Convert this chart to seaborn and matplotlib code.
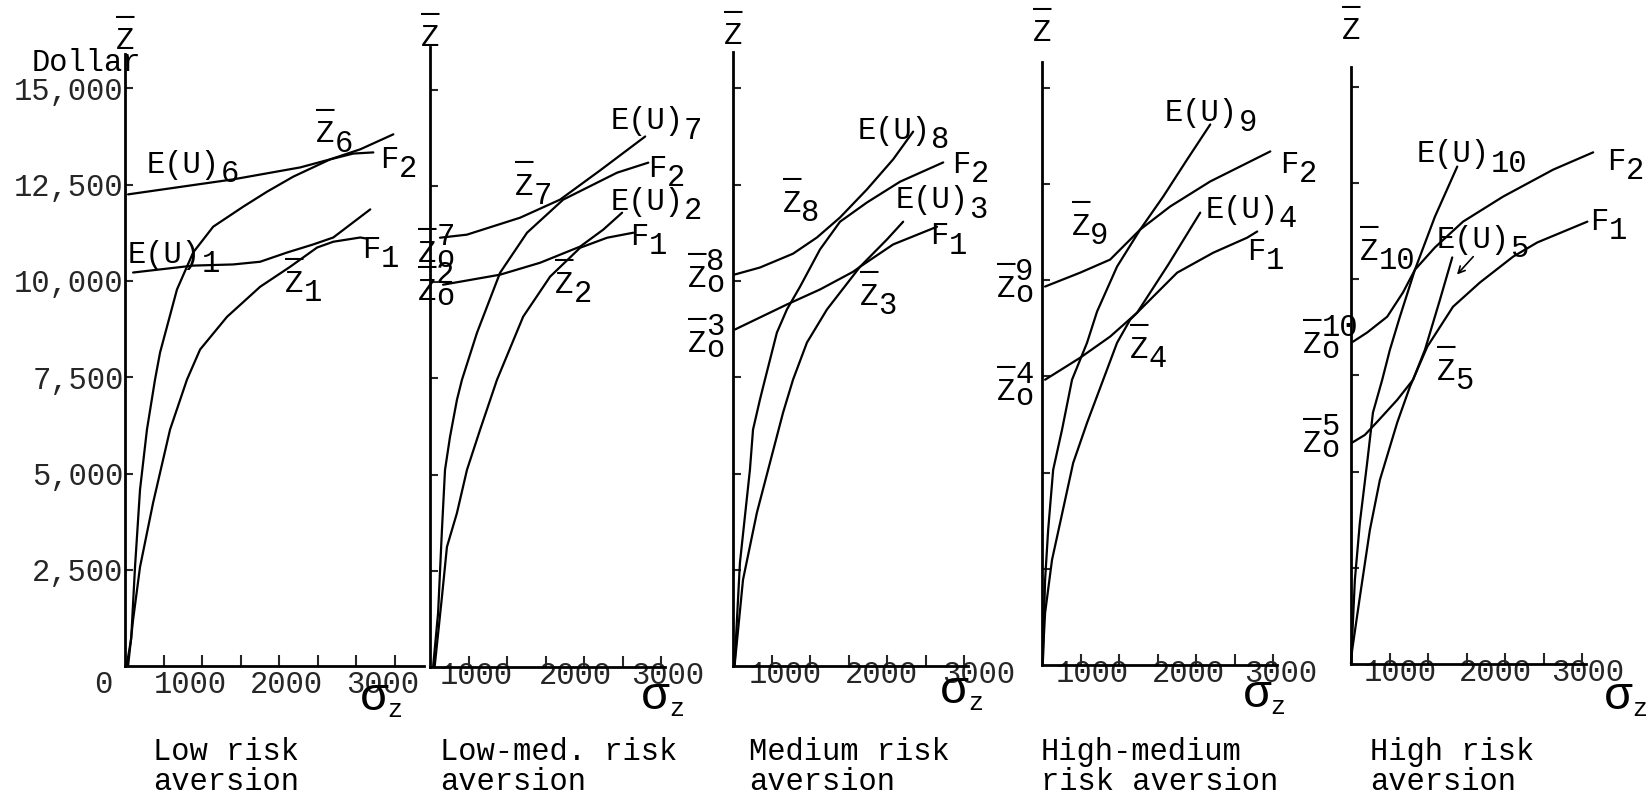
import matplotlib
matplotlib.use('Agg')
import matplotlib.pyplot as plt
import seaborn as sns

# values: (sigma_z, Z-bar), both in dollars
# low risk aversion
low_F2 = [(20, 0), (80, 700), (130, 2570), (195, 4580), (285, 6140), (390, 7440), (455, 8140), (675, 9780),
          (885, 10740), (1145, 11410), (1535, 11930), (1845, 12320), (2185, 12710), (2665, 13160),
          (2965, 13310), (3225, 13340)]
low_EU6 = [(40, 12250), (1405, 12640), (2275, 12950), (2665, 13160), (3055, 13420), (3485, 13810)]
low_EU1 = [(105, 10220), (885, 10400), (1405, 10430), (1755, 10500), (2105, 10740), (2445, 10950),
           (2705, 11130), (3185, 11860)]
low_F1 = [(40, 0), (105, 1200), (195, 2570), (365, 4240), (585, 6140), (805, 7440), (975, 8220),
          (1325, 9070), (1755, 9850), (2145, 10370), (2495, 10870), (2705, 11020), (3055, 11130), (3145, 11100)]

# low-medium risk aversion
lowmed_EU7 = [(130, 11150), (480, 11230), (1170, 11670), (1690, 12140), (2210, 12900), (2795, 13780)]
lowmed_F2 = [(40, 0), (105, 1400), (155, 3560), (195, 5120), (260, 5980), (350, 6940), (415, 7460), (610, 8680),
             (910, 10240), (1260, 11280), (1730, 12140), (2040, 12450), (2430, 12840), (2835, 13100)]
lowmed_EU2 = [(170, 9930), (910, 10190), (1430, 10500), (1950, 10920), (2250, 11360), (2495, 11800)]
lowmed_F1 = [(60, 0), (155, 1820), (220, 3120), (350, 4000), (480, 5120), (650, 6160), (870, 7460), (1210, 9100),
             (1560, 10140), (1950, 10890), (2300, 11150), (2640, 11280)]

# medium risk aversion
med_EU8 = [(25, 10170), (350, 10350), (780, 10710), (1090, 11130), (1390, 11650), (1740, 12380), (2080, 13160),
           (2340, 13880)]
med_F2 = [(20, 0), (90, 2680), (220, 5100), (260, 6140), (350, 6920), (415, 7440), (570, 8660), (700, 9260),
          (870, 9850), (1130, 10820), (1390, 11540), (1740, 12040), (2170, 12580), (2730, 13080)]
med_EU3 = [(25, 8740), (700, 9390), (1130, 9780), (1560, 10240), (1650, 10370), (2000, 11080), (2210, 11540)]
med_F1 = [(20, 0), (130, 2240), (310, 3980), (480, 5280), (650, 6580), (780, 7440), (960, 8400), (1220, 9260),
          (1650, 10370), (2080, 10950), (2650, 11410)]

# high-medium risk aversion
highmed_EU9 = [(40, 9830), (495, 10190), (885, 10530), (1275, 11310), (1575, 12170), (1885, 13130), (2185, 14040)]
highmed_F2 = [(10, 0), (40, 2210), (80, 3510), (145, 5070), (260, 6110), (390, 7410), (585, 8370), (715, 9180),
              (975, 10350), (1275, 11310), (1665, 11910), (2185, 12560), (2705, 13080), (2965, 13340)]
highmed_EU4 = [(40, 7410), (495, 7980), (885, 8530), (1235, 9150), (1640, 10400), (2055, 11750)]
highmed_F1 = [(10, 0), (15, 390), (40, 1350), (130, 2730), (235, 3690), (405, 5250), (585, 6290), (795, 7410),
              (975, 8370), (1145, 8970), (1315, 9310), (1755, 10190), (2225, 10710), (2665, 11100), (2795, 11260)]

# high risk aversion
high_EU10 = [(25, 8370), (210, 8610), (470, 9020), (675, 9650), (830, 10240), (1090, 11620), (1380, 12920)]
high_F2 = [(0, 0), (50, 2180), (115, 3670), (210, 5230), (285, 6530), (405, 7380), (505, 8160), (635, 9020),
           (830, 10240), (1090, 10820), (1455, 11490), (1975, 12140), (2625, 12840), (3145, 13290)]
high_EU5 = [(15, 5750), (180, 5950), (340, 6290), (600, 6860), (805, 7380), (960, 8160), (1155, 9460), (1315, 10560)]
high_F1 = [(0, 0), (15, 360), (115, 1740), (245, 3480), (375, 4780), (600, 6270), (765, 7200), (990, 8240),
           (1325, 9280), (1675, 9910), (2105, 10580), (2420, 10950), (3070, 11490)]

y_ticks = [2500, 5000, 7500, 10000, 12500, 15000]
y_ticklabels = ['2,500', '5,000', '7,500', '10,000', '12,500', '15,000']

titles = [('Low risk', 'aversion'), ('Low-med. risk', 'aversion'), ('Medium risk', 'aversion'),
          ('High-medium', 'risk aversion'), ('High risk', 'aversion')]

# ---- layout ----
W, H = 1650, 797
PX_SD, PX_Z = 0.077, 0.0385          # pixels per dollar on each axis
XLIM, YLIM = (-2000, 4200), (-4000, 17000)
FS = 22

panels = [
    dict(origin=(125, 666), curves=[low_F2, low_EU6, low_EU1, low_F1], top=15900, right=3880,
         minor=[500, 1000, 1500, 2000, 2500, 3000, 3500],
         xlab=([-286, 845, 2093, 3341], ['0', '1000', '2000', '3000']), zbar=16016, sig=(3050, -1150),
         title_px=153,
         labels=[('E(U)', 286, 12818, '6', ''), ('E(U)', 39, 10478, '1', ''), ('F', 3315, 12948, '2', ''),
                 ('F', 3081, 10608, '1', ''), ('Z', 2480, 13600, '6', '', True), ('Z', 2080, 9724, '1', '', True)]),
    dict(origin=(430, 667), curves=[lowmed_EU7, lowmed_F2, lowmed_EU2, lowmed_F1], top=16100, right=3050,
         minor=[500, 1000, 1500, 2000, 2500, 3000],
         xlab=([598, 1885, 3081], ['1000', '2000', '3000']), zbar=16120, sig=(2740, -1100), title_px=440,
         labels=[('Z', -156, 10530, 'o', '7', True), ('Z', -156, 9542, 'o', '2', True),
                 ('Z', 1105, 12272, '7', '', True), ('Z', 1625, 9724, '2', '', True),
                 ('E(U)', 2340, 13962, '7', ''), ('F', 2834, 12740, '2', ''), ('E(U)', 2340, 11882, '2', ''),
                 ('F', 2600, 10972, '1', '')]),
    dict(origin=(733, 666), curves=[med_EU8, med_F2, med_EU3, med_F1], top=15950, right=3050,
         minor=[500, 1000, 1500, 2000, 2500, 3000],
         xlab=([676, 1924, 3185], ['1000', '2000', '3000']), zbar=16146, sig=(2690, -950), title_px=749,
         labels=[('Z', -585, 9854, 'o', '8', True), ('Z', -585, 8164, 'o', '3', True),
                 ('Z', 650, 11800, '8', '', True), ('Z', 1651, 9386, '3', '', True),
                 ('E(U)', 1625, 13700, '8', ''), ('E(U)', 2110, 11900, '3', ''), ('F', 2847, 12818, '2', ''),
                 ('F', 2560, 10950, '1', '')]),
    dict(origin=(1042, 665), curves=[highmed_EU9, highmed_F2, highmed_EU4, highmed_F1], top=15660, right=3050,
         minor=[500, 1000, 1500, 2000, 2500, 3000],
         xlab=([650, 1898, 3094], ['1000', '2000', '3000']), zbar=16198, sig=(2610, -1100), title_px=1041,
         labels=[('Z', -585, 9568, 'o', '9', True), ('Z', -585, 6890, 'o', '4', True),
                 ('Z', 390, 11180, '9', '', True), ('Z', 1144, 7982, '4', '', True),
                 ('E(U)', 1599, 14118, '9', ''), ('E(U)', 2119, 11622, '4', ''), ('F', 3094, 12792, '2', ''),
                 ('F', 2665, 10530, '1', '')]),
    dict(origin=(1351, 664), curves=[high_EU10, high_F2, high_EU5, high_F1], top=15500, right=3050,
         minor=[500, 1000, 1500, 2000, 2500, 3000],
         xlab=([637, 1872, 3068], ['1000', '2000', '3000']), zbar=16224, sig=(3290, -1180), title_px=1370,
         labels=[('Z', -624, 8086, 'o', '10', True), ('Z', -624, 5512, 'o', '5', True),
                 ('Z', 117, 10504, '10', '', True), ('Z', 1118, 7384, '5', '', True),
                 ('E(U)', 858, 13026, '10', ''), ('E(U)', 1118, 10816, '5', ''), ('F', 3328, 12844, '2', ''),
                 ('F', 3107, 11284, '1', '')]),
]

sns.set_theme(style='white')
plt.rcParams['font.family'] = ['Liberation Mono', 'DejaVu Sans']
plt.rcParams['text.color'] = 'black'

fig = plt.figure(figsize=(W / 100, H / 100), dpi=100)
fig.patch.set_facecolor('white')


def typed(ax, x, y, main, sub='', sup='', bar=False, ha='left'):
    kw = dict(xycoords='data', textcoords='offset points', fontsize=FS, va='baseline', annotation_clip=False)
    ax.annotate(main, (x, y), xytext=(0, 0), ha=ha, **kw)
    if bar:
        ax.annotate('\u00af', (x, y), xytext=(0, 6), ha=ha, **kw)
    w = len(main) * 0.6 * FS
    if sup:
        ax.annotate(sup, (x, y), xytext=(w, 12), ha='left', **kw)
    if sub:
        ax.annotate(sub, (x, y), xytext=(w, -4 if sub == 'o' else -7), ha='left', **kw)


for i, p in enumerate(panels):
    ox, oy = p['origin']
    left = (ox + XLIM[0] * PX_SD) / W
    bottom = (H - (oy - YLIM[0] * PX_Z)) / H
    ax = fig.add_axes([left, bottom, (XLIM[1] - XLIM[0]) * PX_SD / W, (YLIM[1] - YLIM[0]) * PX_Z / H])
    ax.set_facecolor('none')

    for c in p['curves']:
        sns.lineplot(x=[v[0] for v in c], y=[v[1] for v in c], sort=False, estimator=None,
                     color='black', lw=1.6, ax=ax)

    ax.set_xlim(XLIM)
    ax.set_ylim(YLIM)
    ax.set_xlabel('')
    ax.set_ylabel('')
    for s in ['top', 'right']:
        ax.spines[s].set_visible(False)
    for s in ['left', 'bottom']:
        ax.spines[s].set_position(('data', 0))
        ax.spines[s].set_linewidth(2)
        ax.spines[s].set_color('black')
    ax.spines['left'].set_bounds(0, p['top'])
    ax.spines['bottom'].set_bounds(0, p['right'])

    ax.set_yticks(y_ticks)
    ax.set_yticklabels(y_ticklabels if i == 0 else [''] * len(y_ticks))
    ax.tick_params(axis='y', direction='in', length=6, width=1.5, pad=1, labelsize=FS, left=True)

    ax.set_xticks(p['xlab'][0])
    ax.set_xticklabels(p['xlab'][1])
    ax.set_xticks(p['minor'], minor=True)
    ax.tick_params(axis='x', which='major', length=0, pad=3 if i == 0 else -4, labelsize=FS)
    ax.tick_params(axis='x', which='minor', direction='in', length=8, width=1.5, bottom=True)

    # axis titles
    typed(ax, 0, p['zbar'], 'Z', bar=True, ha='center')
    sx, sy = p['sig']
    ax.annotate('\u03c3', (sx, sy), xytext=(0, 0), textcoords='offset points', fontsize=34,
                va='baseline', annotation_clip=False)
    ax.annotate('z', (sx, sy), xytext=(20, -5), textcoords='offset points', fontsize=18,
                va='baseline', annotation_clip=False)
    if i == 0:
        typed(ax, -1209, 15444, 'Dollar')

    for lab in p['labels']:
        typed(ax, lab[1], lab[2], lab[0], sub=lab[3], sup=lab[4], bar=len(lab) > 5)

    if i == 4:
        ax.annotate('', xy=(1352, 10062), xytext=(1612, 10634),
                    arrowprops=dict(arrowstyle='->', lw=1.2, color='black'), annotation_clip=False)

    line1, line2 = titles[i]
    fig.text(p['title_px'] / W, 1 - 760 / H, line1, fontsize=FS, va='baseline', ha='left')
    fig.text(p['title_px'] / W, 1 - 790 / H, line2, fontsize=FS, va='baseline', ha='left')

fig.savefig('out.png', dpi=100, facecolor='white')
